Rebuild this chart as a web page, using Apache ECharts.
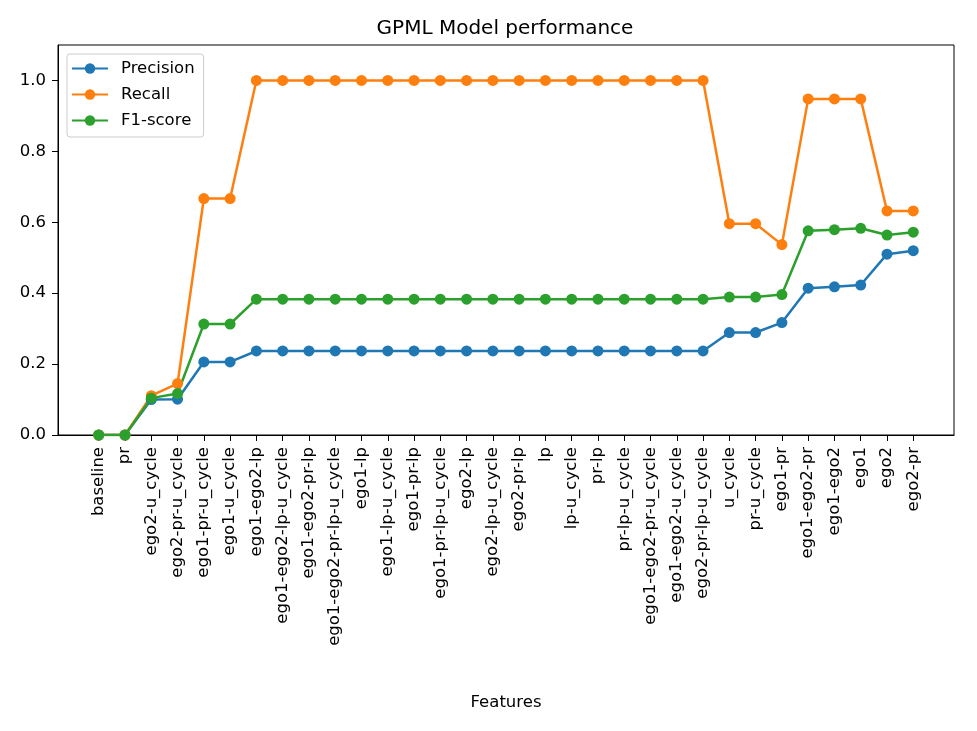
<!DOCTYPE html>
<html>
<head>
<meta charset="utf-8">
<script src="https://cdn.jsdelivr.net/npm/echarts@6/dist/echarts.min.js"></script>
<style>html,body{margin:0;padding:0;background:#fff}#c{width:977px;height:731px}</style>
</head>
<body>
<div id="c"></div>
<script>
const categories = ["baseline","pr","ego2-u_cycle","ego2-pr-u_cycle","ego1-pr-u_cycle","ego1-u_cycle","ego1-ego2-lp","ego1-ego2-lp-u_cycle","ego1-ego2-pr-lp","ego1-ego2-pr-lp-u_cycle","ego1-lp","ego1-lp-u_cycle","ego1-pr-lp","ego1-pr-lp-u_cycle","ego2-lp","ego2-lp-u_cycle","ego2-pr-lp","lp","lp-u_cycle","pr-lp","pr-lp-u_cycle","ego1-ego2-pr-u_cycle","ego1-ego2-u_cycle","ego2-pr-lp-u_cycle","u_cycle","pr-u_cycle","ego1-pr","ego1-ego2-pr","ego1-ego2","ego1","ego2","ego2-pr"];
const precision = [0,0,0.100,0.101,0.206,0.206,0.237,0.237,0.237,0.237,0.237,0.237,0.237,0.237,0.237,0.237,0.237,0.237,0.237,0.237,0.237,0.237,0.237,0.237,0.289,0.289,0.317,0.414,0.418,0.423,0.510,0.520];
const recall = [0,0,0.111,0.145,0.667,0.667,1,1,1,1,1,1,1,1,1,1,1,1,1,1,1,1,1,1,0.596,0.596,0.537,0.948,0.948,0.948,0.632,0.632];
const f1 = [0,0,0.104,0.117,0.313,0.313,0.383,0.383,0.383,0.383,0.383,0.383,0.383,0.383,0.383,0.383,0.383,0.383,0.383,0.383,0.383,0.383,0.383,0.383,0.389,0.389,0.396,0.576,0.579,0.583,0.564,0.572];
const yTicks = [0,0.2,0.4,0.6,0.8,1.0];
const seriesNames = ["Precision","Recall","F1-score"];
const colors = ["#1f77b4","#ff7f0e","#2ca02c"];

const xIdx = categories.map((_, i) => i);
const toPairs = arr => arr.map((v, i) => [i, v]);
const font = "DejaVu Sans";

const chart = echarts.init(document.getElementById('c'), null, {renderer: 'canvas'});
chart.setOption({
  animation: false,
  backgroundColor: '#fff',
  textStyle: {fontFamily: font},
  title: {
    text: 'GPML Model performance',
    left: 500, top: 14, textAlign: 'center',
    textStyle: {fontFamily: font, fontSize: 20, fontWeight: 'normal', color: '#000'}
  },
  legend: {
    orient: 'vertical', left: 67, top: 54,
    padding: [6, 9, 8, 4],
    backgroundColor: 'rgba(255,255,255,0.8)',
    borderColor: '#cccccc', borderWidth: 1, borderRadius: 3,
    itemWidth: 36, itemHeight: 13, itemGap: 9,
    textStyle: {fontFamily: font, fontSize: 16.5, color: '#000', lineHeight: 16, padding: [0,0,0,8]},
    data: seriesNames
  },
  grid: {left: 58, right: 23, top: 45, bottom: 296, show: true, borderColor: '#000', borderWidth: 1, containLabel: false},
  xAxis: {
    type: 'value', min: -1.55, max: 32.55,
    name: 'Features', nameLocation: 'middle', nameGap: 259,
    nameTextStyle: {fontFamily: font, fontSize: 16.5, color: '#000'},
    axisLine: {show: true, onZero: false, lineStyle: {color: '#000', width: 1}},
    axisTick: {show: true, customValues: xIdx, length: 6, lineStyle: {color: '#000'}},
    axisLabel: {show: true, customValues: xIdx, rotate: 90, margin: 12, fontFamily: font, fontSize: 16.5, color: '#000',
      formatter: v => categories[Math.round(v)]},
    splitLine: {show: false}
  },
  yAxis: {
    type: 'value', min: 0, max: 1.1,
    axisLine: {show: true, onZero: false, lineStyle: {color: '#000', width: 1}},
    axisTick: {show: true, customValues: yTicks, length: 6, lineStyle: {color: '#000'}},
    axisLabel: {show: true, customValues: yTicks, margin: 12, fontFamily: font, fontSize: 16.5, color: '#000',
      formatter: v => v.toFixed(1)},
    splitLine: {show: false}
  },
  series: [precision, recall, f1].map((arr, k) => ({
    name: seriesNames[k], type: 'line', data: toPairs(arr),
    symbol: 'circle', symbolSize: 11, showAllSymbol: true,
    color: colors[k],
    itemStyle: {color: colors[k]},
    lineStyle: {color: colors[k], width: 2.5},
    emphasis: {disabled: true}
  }))
});
</script>
</body>
</html>
